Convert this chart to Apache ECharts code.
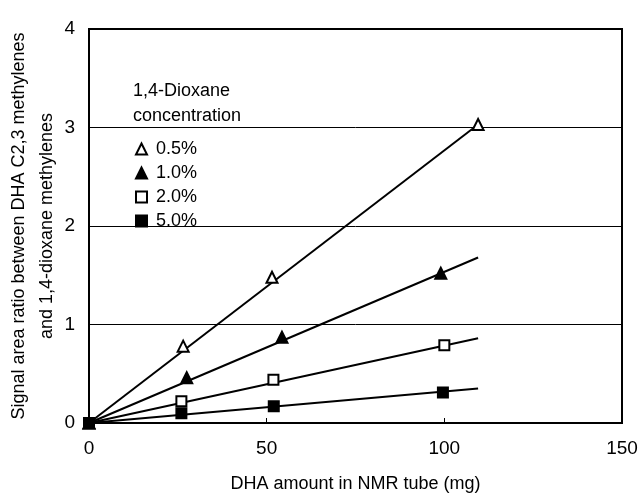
<!DOCTYPE html>
<html><head><meta charset="utf-8">
<script src="https://cdn.jsdelivr.net/npm/echarts@6/dist/echarts.min.js"></script>
<style>html,body{margin:0;padding:0;background:#fff}#c{width:642px;height:495px}</style>
</head><body><div id="c"></div>
<script>
var seriesNames = ['0.5%', '1.0%', '2.0%', '5.0%'];
var dhaAmounts = [
  [0, 26.5, 51.5, 109.5],
  [0, 27.5, 54.3, 99],
  [0, 26, 51.9, 100],
  [0, 26, 52, 99.6]
];
var ratios = [
  [0, 0.78, 1.48, 3.03],
  [0, 0.46, 0.87, 1.52],
  [0, 0.22, 0.44, 0.79],
  [0, 0.10, 0.17, 0.31]
];
var fitEndX = [109.5, 109.5, 109.5, 109.5];
var fitEndY = [3.03, 1.68, 0.86, 0.35];
var xTicks = [0, 50, 100, 150];
var yTicks = [0, 1, 2, 3, 4];

var symbols = ['triangle', 'triangle', 'rect', 'rect'];
var fills = ['#fff', '#000', '#fff', '#000'];
var sizes = [11, 11, 10, 10];
var font = 'Liberation Sans, Arial, sans-serif';

var series = [];
for (var i = 0; i < seriesNames.length; i++) {
  series.push({
    type: 'line', name: seriesNames[i] + '_fit', silent: true,
    data: [[0, 0], [fitEndX[i], fitEndY[i]]],
    symbol: 'none', lineStyle: {color: '#000', width: 2}, z: 2
  });
}
for (var i = 0; i < seriesNames.length; i++) {
  series.push({
    type: 'scatter', name: seriesNames[i],
    data: dhaAmounts[i].map(function (x, j) { return [x, ratios[this][j]]; }, i),
    symbol: symbols[i], symbolSize: sizes[i],
    itemStyle: {color: fills[i], borderColor: '#000', borderWidth: 2, opacity: 1}, z: 5
  });
}

var chart = echarts.init(document.getElementById('c'));
chart.setOption({
  animation: false,
  backgroundColor: '#fff',
  grid: {left: 89, right: 20, top: 29, bottom: 72, containLabel: false, outerBoundsMode: 'none',
         show: true, borderColor: '#000', borderWidth: 2, backgroundColor: 'transparent'},
  title: {
    text: '1,4-Dioxane\nconcentration', left: 128, top: 74,
    textStyle: {fontFamily: font, fontSize: 18, fontWeight: 'normal', color: '#000', lineHeight: 25}
  },
  legend: {
    data: seriesNames, orient: 'vertical', left: 130, top: 135, itemGap: 6,
    itemWidth: 11, itemHeight: 11,
    textStyle: {fontFamily: font, fontSize: 18, color: '#000', padding: [0, 0, 0, 4]}
  },
  xAxis: {
    type: 'value', min: xTicks[0], max: xTicks[xTicks.length - 1], interval: 50,
    axisLine: {lineStyle: {color: '#000', width: 2}},
    axisTick: {show: true, inside: true, length: 5, lineStyle: {color: '#000'}},
    splitLine: {show: false},
    axisLabel: {fontFamily: font, fontSize: 19, color: '#000', margin: 16},
    name: 'DHA amount in NMR tube (mg)', nameLocation: 'middle', nameGap: 52,
    nameTextStyle: {fontFamily: font, fontSize: 18, color: '#000'}
  },
  yAxis: {
    type: 'value', min: yTicks[0], max: yTicks[yTicks.length - 1], interval: 1,
    axisLine: {lineStyle: {color: '#000', width: 2}},
    axisTick: {show: false},
    splitLine: {show: true, lineStyle: {color: '#000', width: 1}},
    axisLabel: {fontFamily: font, fontSize: 19, color: '#000', margin: 14},
    name: 'Signal area ratio between DHA C2,3 methylenes\nand 1,4-dioxane methylenes',
    nameLocation: 'middle', nameRotate: 90, nameGap: 28, nameMoveOverlap: false,
    nameTextStyle: {fontFamily: font, fontSize: 18, color: '#000', lineHeight: 28, align: 'center'}
  },
  series: series
});
</script></body></html>
